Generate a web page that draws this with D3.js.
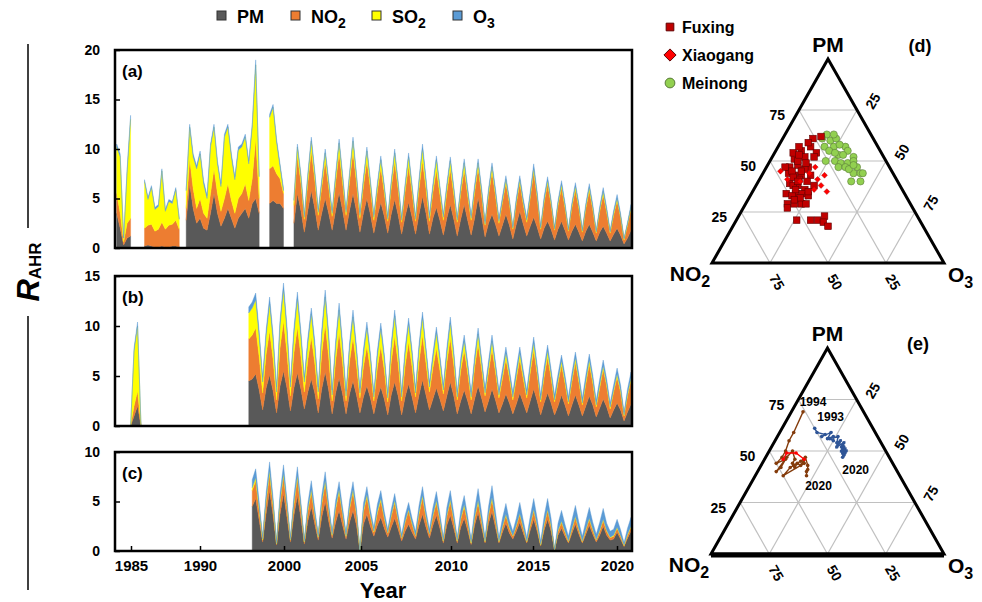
<!DOCTYPE html>
<html>
<head>
<meta charset="utf-8">
<script src="https://cdn.jsdelivr.net/npm/d3@7"></script>
<style>
  body { margin: 0; background: #fff; }
  svg { font-family: Arial, "Liberation Sans", sans-serif; font-weight: bold; }
</style>
</head>
<body>
<svg id="chart" width="982" height="602"></svg>
<script>
// pollutant keys, stacked bottom -> top
const keys = ["PM", "NO2", "SO2", "O3"];
const colors = { PM: "#595959", NO2: "#ed7d31", SO2: "#ffff00", O3: "#5b9bd5" };

// quarterly values (Jan, Apr, Jul, Oct), each row = [PM, NO2, SO2, O3], null = no data
const panelA = [
  [3.5,2,4.7,.3],[2,1.5,5.7,.3],[.3,.3,.4,0],[1,1.5,5.2,.3],          // 1984
  [1.2,1.8,10,.4],null,null,null,                                    // 1985
  [.2,1.8,4.7,.2],[.3,2,2.6,.2],[.2,2.2,3.7,.2],[.1,1.6,2.2,.2],     // 1986
  [.1,1.8,2.3,.2],[.2,2.4,5.2,.2],[.1,1.8,1.8,.2],[.1,2.2,2.4,.2],   // 1987
  [.2,2.2,2.1,.2],[.2,2.6,3.1,.2],[.1,1.8,1,.1],null,                // 1988
  [2.8,1.2,1.8,.2],[6.5,2.5,3.2,.3],[4,2,3.2,.3],[2.5,1.5,4,.3],     // 1989
  [3,2,4.5,.3],[2,1.5,3,.3],[1.8,1.2,2,.3],[3.5,2,4.7,.3],           // 1990
  [5.5,2.5,4.2,.3],[3.5,2,3,.3],[2.2,1.5,2.5,.3],[3,2,6.2,.3],       // 1991
  [4,2.5,5.7,.3],[3,1.8,4.4,.3],[2,1.5,3.4,.3],[3,2,4.9,.3],         // 1992
  [3.5,2,4.7,.3],[4,2.5,4.7,.3],[3,1.8,3.7,.3],[4.5,2.5,5.2,.3],     // 1993
  [5,6,7.5,.5],[3.5,1.5,2.2,.3],null,null,                           // 1994
  [4.5,3.5,5.2,.3],[4.8,3.5,5.9,.3],[4.5,3,3.2,.3],[4.5,2.5,1.2,.3], // 1995
  [4,1.5,.3,.2],null,null,[2.5,1.8,.5,.2],                           // 1996
  [5.5,3.8,.9,.3],[3.8,2.8,.6,.3],[1.6,1.3,.2,.3],[3.8,2.8,.6,.3],   // 1997
  [5.8,4,1,.4],[4,2.9,.6,.3],[1.8,1.5,.3,.3],[3.5,2.6,.5,.3],        // 1998
  [5,3.8,.8,.4],[3.5,2.6,.5,.3],[1.8,1.4,.3,.3],[3.8,2.8,.6,.3],     // 1999
  [5.6,4,1,.4],[3.8,2.8,.6,.3],[1.8,1.5,.3,.3],[3.8,2.9,.6,.3],      // 2000
  [5.5,4.2,1.1,.4],[3.7,2.9,.6,.3],[1.6,1.4,.3,.3],[3.5,2.7,.6,.3],  // 2001
  [5,3.8,1,.4],[3.4,2.6,.6,.3],[1.5,1.3,.3,.3],[3.2,2.5,.5,.3],      // 2002
  [4.6,3.5,.8,.4],[3.2,2.4,.5,.3],[1.5,1.2,.2,.3],[3.4,2.6,.5,.3],   // 2003
  [4.9,3.8,.9,.4],[3.3,2.6,.5,.3],[1.4,1.2,.2,.3],[3.2,2.5,.5,.3],   // 2004
  [4.6,3.7,.9,.4],[3.1,2.5,.5,.3],[1.4,1.3,.2,.3],[3.4,2.6,.6,.4],   // 2005
  [5.2,3.6,1.2,.5],[3.5,2.5,.7,.4],[1.4,1.3,.3,.4],[3,2.6,.5,.4],    // 2006
  [4.1,3.8,1,.4],[2.8,2.6,.6,.3],[1.3,1.5,.3,.3],[3,2.6,.5,.4],      // 2007
  [4.4,3.6,.8,.4],[2.9,2.5,.5,.3],[1.2,1.4,.2,.3],[2.9,2.6,.4,.4],   // 2008
  [4.4,3.5,.7,.4],[2.8,2.5,.4,.4],[1.3,1.5,.2,.3],[3,2.6,.4,.4],     // 2009
  [5.1,3,.5,.4],[3.2,2.2,.3,.4],[1.1,1.2,.1,.3],[2.5,2.8,.3,.4],     // 2010
  [3.4,4.3,.5,.4],[2.4,2.9,.3,.4],[1.2,1.3,.2,.3],[2.3,2.3,.2,.4],   // 2011
  [3.4,3.2,.3,.4],[2.3,2.2,.2,.3],[.9,1,.1,.2],[2.4,2.1,.2,.4],      // 2012
  [3.7,2.9,.3,.4],[2.4,2,.2,.4],[1.2,1.4,.2,.3],[2.2,2.9,.2,.4],     // 2013
  [3.1,4.6,.3,.5],[2.1,3,.2,.4],[.9,1,.1,.2],[2,2.6,.2,.4],          // 2014
  [2.7,3.8,.3,.4],[1.9,2.5,.2,.3],[.8,1,.1,.2],[1.9,2.4,.2,.3],      // 2015
  [2.7,3.4,.3,.4],[1.8,2.3,.2,.3],[.8,.9,.1,.2],[1.7,2.4,.2,.3],     // 2016
  [2.4,3.5,.3,.4],[1.6,2.4,.2,.3],[.7,.9,.1,.2],[1.7,2.3,.2,.3],     // 2017
  [2.4,3.4,.3,.4],[1.6,2.3,.2,.3],[.7,.8,.1,.2],[1.6,2.1,.2,.3],     // 2018
  [2.2,3.2,.3,.4],[1.5,2.1,.2,.3],[.7,.8,.1,.2],[1.4,1.9,.2,.3],     // 2019
  [2,2.8,.2,.4],[1.3,1.8,.1,.3],[.4,.4,.1,.1],[1,1.3,.1,.2],         // 2020
  [1.8,2.2,.1,.3]                                                    // 2021
];

const panelB1985 = [[0,0,0,0],[1,1,5.5,.3],[2,1.5,6.5,.4],[0,0,0,0]];
const panelB = [                                                     // from Jul 1993
  [4.5,4.2,2.6,.6],[4.7,4.4,2.7,.6],
  [5.2,4.6,2.8,.7],[3.6,3.3,2,.6],[1.6,1.7,1.1,.5],[3.8,3.4,1.8,.6],   // 1994
  [5.1,4.4,2.7,.7],[3.5,3.2,1.9,.6],[1.3,1.3,.8,.5],[4,3.8,2.2,.6],    // 1995
  [5.5,5,3.1,.7],[3.8,3.5,2.1,.6],[1.5,1.5,.9,.5],[3.8,3.5,1.9,.6],    // 1996
  [5.3,4.6,2.8,.7],[3.7,3.3,1.9,.6],[1.7,1.7,1,.5],[3.4,3.2,1.6,.6],   // 1997
  [4.7,4.2,2.3,.6],[3.3,3,1.6,.6],[1.3,1.4,.7,.5],[3.7,3.5,1.8,.6],    // 1998
  [5.4,4.8,2.7,.7],[3.6,3.3,1.8,.6],[1.2,1.3,.6,.5],[3.3,3.2,1.4,.6],  // 1999
  [4.8,4.6,2.2,.7],[3.2,3.1,1.4,.6],[1.2,1.3,.5,.5],[3.2,3.2,1.3,.6],  // 2000
  [4.5,4.4,2,.7],[3.1,3,1.3,.6],[1.3,1.5,.5,.5],[2.9,3,1.2,.6],        // 2001
  [4,4,1.8,.6],[2.8,2.8,1.2,.5],[1.2,1.3,.4,.5],[2.8,3,1.1,.6],        // 2002
  [3.9,4.1,1.7,.6],[2.7,2.9,1.1,.5],[1.1,1.3,.4,.5],[3.1,3.3,1.3,.6],  // 2003
  [4.4,4.6,2,.6],[3,3.2,1.3,.5],[1.1,1.4,.4,.5],[2.9,3.1,1.2,.6],      // 2004
  [4.2,4.2,1.8,.6],[2.9,3,1.2,.5],[1.3,1.6,.4,.5],[3.1,3.3,1.2,.6],    // 2005
  [4.6,4.5,1.7,.6],[3.1,3.2,1.1,.5],[1.6,1.8,.5,.5],[2.7,3.1,.9,.6],   // 2006
  [3.8,4,1.5,.6],[2.7,2.9,1,.5],[1.5,1.7,.4,.5],[3,3.3,.9,.6],         // 2007
  [4.4,4.4,1.5,.6],[3,3.1,.9,.5],[1.2,1.4,.3,.5],[2.5,3,.7,.6],        // 2008
  [3.6,4,.9,.6],[2.5,2.8,.6,.5],[1.2,1.4,.3,.5],[2.7,3.1,.6,.6],       // 2009
  [4,4.2,1,.6],[2.8,2.9,.6,.5],[1.4,1.6,.3,.5],[2.5,2.9,.5,.6],        // 2010
  [3.7,4,.8,.6],[2.6,2.8,.5,.5],[1.3,1.5,.3,.5],[2.2,2.5,.4,.6],       // 2011
  [3.2,3.5,.6,.6],[2.3,2.5,.4,.5],[1.2,1.4,.3,.5],[2.2,2.5,.4,.6],     // 2012
  [3.3,3.4,.6,.6],[2.3,2.4,.4,.5],[1.3,1.5,.3,.5],[2.5,2.8,.5,.6],     // 2013
  [3.7,3.9,.7,.6],[2.5,2.7,.4,.5],[1.1,1.3,.2,.5],[2.3,2.6,.4,.6],     // 2014
  [3.3,3.6,.6,.6],[2.3,2.5,.4,.5],[1.1,1.3,.2,.5],[2,2.3,.3,.6],       // 2015
  [3.1,3,.4,.6],[2.1,2.2,.3,.5],[1,1.2,.2,.5],[2.1,2.3,.3,.6],         // 2016
  [3.1,3.3,.4,.6],[2.1,2.3,.3,.5],[1,1.1,.2,.5],[2,2.2,.3,.6],         // 2017
  [3,3.2,.4,.6],[2.1,2.2,.3,.5],[.9,1,.2,.5],[1.8,2,.3,.6],            // 2018
  [2.7,3,.3,.6],[1.9,2.1,.2,.5],[.8,.9,.2,.4],[1.6,1.8,.2,.5],         // 2019
  [2.3,2.6,.3,.6],[1.6,1.8,.2,.5],[.5,.5,.1,.3],[1.4,1.6,.2,.5],       // 2020
  [2.2,2.4,.2,.6]                                                      // 2021
];

const panelC = [                                                     // from Oct 1993
  [4.5,1.6,.3,.8],
  [5.3,1.8,.3,.9],[3.1,1,.2,.7],[.9,.2,.1,.3],[3.8,1.2,.2,.7],         // 1994
  [6.1,1.7,.3,.9],[3.6,1,.2,.6],[.6,.1,.05,.25],[3.7,1.2,.2,.7],       // 1995
  [5.8,1.8,.2,.9],[3.4,1.1,.1,.6],[.9,.2,.05,.25],[3.6,1.1,.2,.7],     // 1996
  [5.6,1.8,.2,.9],[3.3,1,.1,.6],[.7,.2,.05,.25],[3,1,.2,.6],           // 1997
  [4.5,1.5,.2,.9],[2.7,.9,.1,.6],[1.1,.3,.05,.3],[3.4,1.3,.2,.7],      // 1998
  [5,1.9,.2,.9],[3,1.1,.1,.6],[1.3,.3,.05,.35],[2.9,1.3,.2,.7],        // 1999
  [4.1,1.9,.2,.8],[2.6,1.1,.1,.6],[1.2,.3,.05,.35],[2.9,1.3,.2,.7],    // 2000
  [4.1,1.9,.2,.8],[2.6,1.1,.1,.6],[.05,.02,0,.03],[2.7,1.2,.2,.7],     // 2001
  [3.7,1.8,.2,.8],[2.5,1,.1,.6],[1.5,.4,.1,.4],[2.6,1.2,.2,.7],        // 2002
  [3.4,1.7,.2,.8],[2.3,1,.1,.6],[1.4,.4,.05,.35],[2.4,1.1,.1,.6],      // 2003
  [3.3,1.6,.2,.7],[2.2,.9,.1,.5],[1,.3,.05,.35],[2,.9,.1,.6],          // 2004
  [2.7,1.4,.1,.7],[1.9,.8,.1,.5],[1.2,.3,.05,.45],[2.6,1.1,.2,.7],     // 2005
  [3.7,1.7,.2,.9],[2.4,1,.1,.6],[1.3,.4,.05,.45],[2.6,.9,.1,.8],       // 2006
  [3.6,1.3,.2,.9],[2.3,.8,.1,.6],[.8,.2,.05,.35],[2.6,.9,.1,.8],       // 2007
  [3.6,1.4,.2,.9],[2.3,.8,.1,.6],[.8,.2,.05,.35],[2.4,.8,.1,.8],       // 2008
  [3.3,1.2,.2,.9],[2.1,.7,.1,.6],[.65,.15,.05,.35],[2.6,.7,.1,.8],     // 2009
  [3.9,1,.2,1.2],[2.4,.6,.1,.8],[.8,.15,.05,.4],[2.8,.8,.1,.8],        // 2010
  [4,1.2,.2,1.2],[2.4,.7,.1,.8],[.8,.15,.05,.4],[1.9,.5,.1,.8],        // 2011
  [2.8,.8,.1,1.1],[1.8,.5,.1,.7],[1.2,.3,.05,.45],[2,.5,.1,.7],        // 2012
  [2.9,.8,.1,1.1],[1.8,.5,.1,.7],[.8,.15,.05,.4],[2.1,.5,.1,.8],       // 2013
  [3.2,.9,.1,1.1],[2,.5,.1,.7],[.5,.1,.05,.35],[2.1,.5,.1,.8],         // 2014
  [3.2,.9,.1,1.1],[2,.5,.1,.7],[.1,.03,0,.07],[1.6,.4,.1,.7],          // 2015
  [2.3,.6,.1,1.1],[1.5,.4,.1,.7],[.8,.15,.05,.5],[1.8,.4,.1,.8],       // 2016
  [2.7,.7,.1,1.1],[1.7,.4,.1,.7],[.8,.15,.05,.5],[1.7,.4,.1,.8],       // 2017
  [2.6,.6,.1,1.1],[1.7,.4,.1,.7],[.9,.2,.05,.55],[1.6,.4,.1,.8],       // 2018
  [2.5,.6,.1,1.1],[1.6,.4,.1,.7],[1.1,.25,.05,.6],[1.2,.3,.1,.6],      // 2019
  [1.9,.4,.1,.8],[1.2,.3,.05,.6],[.45,.1,.05,.25],[1.3,.3,.1,.6],      // 2020
  [2,.4,.1,.9]                                                         // 2021
];

const tickYears = [1985, 1990, 2000, 2005, 2010, 2015, 2020];

// ternary compositions [PM, NO2, O3] in %
const fuxing = [
  [61,26,13],[62,22,16],[55,34,11],[57,29,14],[54,28,18],[51,39,10],[52,34,14],[52,30,18],
  [47,43,10],[48,39,13],[47,35,18],[44,45,11],[43,43,14],[43,40,17],[43,36,21],[39,47,14],
  [38,44,18],[40,39,21],[38,46,16],[36,42,22],[34,51,15],[34,47,19],[34,44,22],[33,42,25],
  [29,53,18],[29,50,21],[29,47,24],[29,45,26],[27,54,19],[21,53,26],[21,47,32],[21,44,35],
  [23,40,37],[20,42,38],[18,41,41],[54,38,8],[57,34,9],[59,29,12],[47,45,8],[45,43,12],
  [46,37,17],[41,42,17],[32,46,22],[33,49,18],[38,37,25],[50,38,12],[49,35,16],[42,44,14],
  [36,46,18],[31,49,20],[45,39,16],[53,36,11],[40,43,17],[35,41,24]
];
const xiaogang = [
  [45,48,7],[41,47,12],[47,32,21],[38,34,28],[35,33,32],[41,34,25],[43,30,27],[36,38,26],
  [40,42,18],[44,36,20]
];
const meinong = [
  [63,19,18],[61,22,17],[60,19,21],[61,16,23],[57,23,20],[57,19,24],[57,14,29],[55,14,31],
  [53,19,28],[53,17,30],[52,13,35],[50,26,24],[50,22,28],[49,20,31],[49,17,34],[50,14,36],
  [47,22,31],[47,19,34],[47,14,39],[44,17,39],[44,14,42],[44,13,43],[40,20,40],[40,16,44],
  [55,22,23],[63,16,21],[46,18,36],[48,15,37],[54,20,26],[58,16,26]
];
// annual trajectories
const fuxingYears = [ // 1994 - 2020
  [69,26,5],[59,35,6],[55,39,6],[50,43,7],[47,46,7],[44,50,6],[46,45,9],[42,49,9],[40,52,8],
  [47,44,9],[50,40,10],[46,41,13],[44,43,13],[42,43,15],[44,41,15],[43,40,17],[46,37,17],
  [44,38,18],[38,50,12],[42,45,13],[43,43,14],[45,39,16],[47,36,17],[43,37,20],[41,38,21],
  [40,39,21],[38,40,22]
];
const xiaogangYears = [[46,46,8],[49,43,8],[49,39,12],[46,37,17]];
const meinongYears = [ // 1993 - 2020
  [61,25,14],[59,25,16],[58,22,20],[57,24,19],[59,19,22],[56,22,22],[57,19,24],[55,20,25],
  [56,21,23],[57,17,26],[54,19,27],[55,17,28],[53,19,28],[54,18,28],[52,20,28],[54,16,30],
  [52,18,30],[53,17,30],[52,17,31],[51,18,31],[50,19,31],[51,17,32],[49,19,32],[50,17,33],
  [48,19,33],[49,18,33],[48,19,33],[47,20,33]
];

const svg = d3.select("#chart");

// time scale shared by the three stacked panels
const x = d3.scaleLinear().domain([1984, 2021]).range([116.7, 631]);
// year labels printed under panel (c)
const xLab = d3.scaleLinear().domain(tickYears).range([131, 200, 284, 361, 451, 533, 617]);

function toRows(segments) {
  const out = [];
  segments.forEach(({ start, rows }, si) => {
    if (si) out.push({ t: start - 0.01, ok: false, PM: 0, NO2: 0, SO2: 0, O3: 0 });
    rows.forEach((r, i) => out.push({
      t: start + i / 4, ok: r !== null,
      PM: r ? r[0] : 0, NO2: r ? r[1] : 0, SO2: r ? r[2] : 0, O3: r ? r[3] : 0
    }));
  });
  return out;
}

const panels = [
  { label: "(a)", segs: [{ start: 1984, rows: panelA }], max: 20, top: 50, bottom: 248 },
  { label: "(b)", segs: [{ start: 1985, rows: panelB1985 }, { start: 1993.5, rows: panelB }], max: 15, top: 276, bottom: 426 },
  { label: "(c)", segs: [{ start: 1993.75, rows: panelC }], max: 10, top: 452, bottom: 551 }
];

panels.forEach((p, pi) => {
  const g = svg.append("g");
  const y = d3.scaleLinear().domain([0, p.max]).range([p.bottom, p.top]);
  const series = d3.stack().keys(keys)(toRows(p.segs));
  const area = d3.area()
    .defined(d => d.data.ok)
    .x(d => x(d.data.t))
    .y0(d => y(d[0]))
    .y1(d => y(d[1]));

  g.selectAll("path.layer")
    .data(series)
    .join("path")
    .attr("class", "layer")
    .attr("fill", d => colors[d.key])
    .attr("stroke", d => colors[d.key])
    .attr("stroke-width", 0.4)
    .attr("d", area);

  const ya = g.append("g")
    .attr("transform", `translate(115,0)`)
    .call(d3.axisLeft(y).ticks(p.max / 5).tickSize(-5).tickPadding(15));
  ya.select(".domain").remove();
  ya.selectAll("line").attr("stroke", "#000").attr("stroke-width", 1.5);
  ya.selectAll("text").attr("font-size", 14).attr("font-weight", "bold")
    .attr("font-family", "Arial, 'Liberation Sans', sans-serif").attr("fill", "#000");

  if (pi === 2) {
    const xa = g.append("g")
      .attr("transform", `translate(0,${p.bottom})`)
      .call(d3.axisBottom(xLab).tickValues(tickYears).tickFormat(d3.format("d")).tickSize(-5).tickPadding(9));
    xa.select(".domain").remove();
    xa.selectAll("line").attr("stroke", "#000").attr("stroke-width", 1.5);
    xa.selectAll("text").attr("font-size", 15).attr("font-weight", "bold")
      .attr("font-family", "Arial, 'Liberation Sans', sans-serif").attr("fill", "#000");
  }

  g.append("rect")
    .attr("x", 115).attr("y", p.top)
    .attr("width", 517).attr("height", p.bottom - p.top)
    .attr("fill", "none").attr("stroke", "#000").attr("stroke-width", 2.5);

  g.append("text")
    .attr("x", 122).attr("y", p.top + 27)
    .attr("font-size", 17)
    .text(p.label);
});

// axis titles
svg.append("text")
  .attr("x", 383).attr("y", 598)
  .attr("text-anchor", "middle")
  .attr("font-size", 22)
  .text("Year");

const yt = svg.append("text")
  .attr("transform", "translate(39,272) rotate(-90)")
  .attr("text-anchor", "middle");
yt.append("tspan").attr("font-size", 31).attr("font-style", "italic").text("R");
yt.append("tspan").attr("font-size", 17).attr("dy", 2).text("AHR");

svg.append("line").attr("x1", 28).attr("x2", 28).attr("y1", 44).attr("y2", 228)
  .attr("stroke", "#000").attr("stroke-width", 1.5);
svg.append("line").attr("x1", 28).attr("x2", 28).attr("y1", 316).attr("y2", 590)
  .attr("stroke", "#000").attr("stroke-width", 1.5);

// top legend
const legendItems = [
  { key: "PM", main: "PM", sub: "", x: 217 },
  { key: "NO2", main: "NO", sub: "2", x: 291 },
  { key: "SO2", main: "SO", sub: "2", x: 372 },
  { key: "O3", main: "O", sub: "3", x: 453 }
];
const lg = svg.append("g").selectAll("g").data(legendItems).join("g")
  .attr("transform", d => `translate(${d.x},0)`);
lg.append("rect")
  .attr("x", 0).attr("y", 11).attr("width", 9).attr("height", 9)
  .attr("fill", d => colors[d.key]).attr("stroke", "#333").attr("stroke-width", 1);
const lt = lg.append("text").attr("x", 20).attr("y", 23).attr("font-size", 18);
lt.append("tspan").text(d => d.main);
lt.append("tspan").attr("dy", 5).attr("font-size", 14).text(d => d.sub);

// ternary diagrams
function ternary(cfg) {
  const g = svg.append("g");
  const px = d3.scaleLinear().domain([0, 100]).range([cfg.x0, cfg.x0 + cfg.side]);
  const py = d3.scaleLinear().domain([0, 100]).range([cfg.baseY, cfg.baseY - cfg.h]);
  const P = ([pm, no2, o3]) => [px(o3 + pm / 2), py(pm)];
  const steps = [25, 50, 75];

  const grid = [];
  steps.forEach(v => {
    grid.push([P([v, 100 - v, 0]), P([v, 0, 100 - v])]);
    grid.push([P([0, v, 100 - v]), P([100 - v, v, 0])]);
    grid.push([P([0, 100 - v, v]), P([100 - v, 0, v])]);
  });
  g.selectAll("line.grid").data(grid).join("line")
    .attr("class", "grid")
    .attr("x1", d => d[0][0]).attr("y1", d => d[0][1])
    .attr("x2", d => d[1][0]).attr("y2", d => d[1][1])
    .attr("stroke", "#c0c0c0").attr("stroke-width", 1.2);

  const corners = [P([100, 0, 0]), P([0, 100, 0]), P([0, 0, 100])];
  g.append("path")
    .attr("d", d3.line()(corners) + "Z")
    .attr("fill", "none").attr("stroke", "#000").attr("stroke-width", 3)
    .attr("stroke-linejoin", "miter");
  if (cfg.thickBase) {
    g.append("line")
      .attr("x1", corners[1][0]).attr("y1", corners[1][1] + 1)
      .attr("x2", corners[2][0]).attr("y2", corners[2][1] + 1)
      .attr("stroke", "#000").attr("stroke-width", 5);
  }

  // tick labels: PM on left side, O3 on right side, NO2 along the base
  g.selectAll("text.lt").data(steps).join("text")
    .attr("class", "lt")
    .attr("x", v => P([v, 100 - v, 0])[0] - 14)
    .attr("y", v => P([v, 100 - v, 0])[1] + 10)
    .attr("text-anchor", "end").attr("font-size", 14)
    .text(v => v);
  g.selectAll("text.rt").data(steps).join("text")
    .attr("class", "rt")
    .attr("transform", v => {
      const [a, b] = P([100 - v, 0, v]);
      return `translate(${a + 16},${b - 9}) rotate(-60)`;
    })
    .attr("text-anchor", "middle").attr("dy", "0.35em").attr("font-size", 14)
    .text(v => v);
  g.selectAll("text.bt").data(steps).join("text")
    .attr("class", "bt")
    .attr("transform", v => {
      const [a, b] = P([0, v, 100 - v]);
      return `translate(${a + 7},${b + 19}) rotate(60)`;
    })
    .attr("text-anchor", "middle").attr("dy", "0.35em").attr("font-size", 14)
    .text(v => v);

  g.append("text").attr("x", corners[0][0]).attr("y", corners[0][1] - 7)
    .attr("text-anchor", "middle").attr("font-size", 21).text("PM");
  const nt = g.append("text").attr("x", corners[1][0] - 22).attr("y", corners[1][1] + 18)
    .attr("text-anchor", "middle").attr("font-size", 21);
  nt.append("tspan").text("NO");
  nt.append("tspan").attr("dy", 6).attr("font-size", 16).text("2");
  const ot = g.append("text").attr("x", corners[2][0] + 4).attr("y", corners[2][1] + 19)
    .attr("font-size", 21);
  ot.append("tspan").text("O");
  ot.append("tspan").attr("dy", 6).attr("font-size", 16).text("3");

  g.append("text").attr("x", cfg.labelX).attr("y", cfg.labelY)
    .attr("text-anchor", "middle").attr("font-size", 18).text(cfg.label);
  return { g, P };
}

// (d) monthly compositions
const tD = ternary({ x0: 712, side: 232, baseY: 263, h: 204, label: "(d)", labelX: 920, labelY: 52 });
tD.g.selectAll("circle.mn").data(meinong).join("circle")
  .attr("class", "mn")
  .attr("cx", d => tD.P(d)[0]).attr("cy", d => tD.P(d)[1]).attr("r", 3.6)
  .attr("fill", "#92d050").attr("stroke", "#5a7a3a").attr("stroke-width", 0.6);
tD.g.selectAll("rect.fx").data(fuxing).join("rect")
  .attr("class", "fx")
  .attr("x", d => tD.P(d)[0] - 3.3).attr("y", d => tD.P(d)[1] - 3.3)
  .attr("width", 6.6).attr("height", 6.6)
  .attr("fill", "#c00000").attr("stroke", "#600000").attr("stroke-width", 0.6);
tD.g.selectAll("path.xg").data(xiaogang).join("path")
  .attr("class", "xg")
  .attr("transform", d => `translate(${tD.P(d)[0]},${tD.P(d)[1]})`)
  .attr("d", d3.symbol(d3.symbolDiamond2, 22))
  .attr("fill", "#ff0000").attr("stroke", "#a00000").attr("stroke-width", 0.4);

// (d) legend
const siteLegend = [
  { name: "Fuxing", shape: "square", fill: "#c00000", stroke: "#600000", y: 27 },
  { name: "Xiaogang", shape: "diamond", fill: "#ff0000", stroke: "#600000", y: 55 },
  { name: "Meinong", shape: "circle", fill: "#92d050", stroke: "#5a7a3a", y: 83 }
];
const sl = svg.append("g").selectAll("g").data(siteLegend).join("g")
  .attr("transform", d => `translate(670,${d.y})`);
sl.append("path")
  .attr("d", d => d3.symbol(d.shape === "square" ? d3.symbolSquare2 : d.shape === "diamond" ? d3.symbolDiamond2 : d3.symbolCircle,
    d.shape === "diamond" ? 95 : 75)())
  .attr("fill", d => d.fill).attr("stroke", d => d.stroke).attr("stroke-width", 1);
sl.append("text").attr("x", 12).attr("y", 5.5).attr("font-size", 16).text(d => d.name);

// (e) annual trajectories
const tE = ternary({ x0: 711, side: 233, baseY: 554, h: 206, label: "(e)", labelX: 918, labelY: 350, thickBase: true });
const tracks = [
  { data: fuxingYears, color: "#843c0c", labels: [["1994", 0, 10, -6], ["2020", -1, 12, 14]] },
  { data: xiaogangYears, color: "#ff0000", labels: [] },
  { data: meinongYears, color: "#2f5597", labels: [["1993", 0, 16, -7], ["2020", -1, 13, 17]] }
];
tracks.forEach(tr => {
  const pts = tr.data.map(tE.P);
  tE.g.append("path")
    .attr("d", d3.line()(pts))
    .attr("fill", "none").attr("stroke", tr.color).attr("stroke-width", 1.4);
  tE.g.selectAll(null).data(pts).join("circle")
    .attr("cx", d => d[0]).attr("cy", d => d[1]).attr("r", 1.8)
    .attr("fill", tr.color);
  tr.labels.forEach(([txt, idx, dx, dy]) => {
    const p = pts[idx < 0 ? pts.length + idx : idx];
    tE.g.append("text").attr("x", p[0] + dx).attr("y", p[1] + dy)
      .attr("text-anchor", "middle").attr("font-size", 12).text(txt);
  });
});
</script>
</body>
</html>
